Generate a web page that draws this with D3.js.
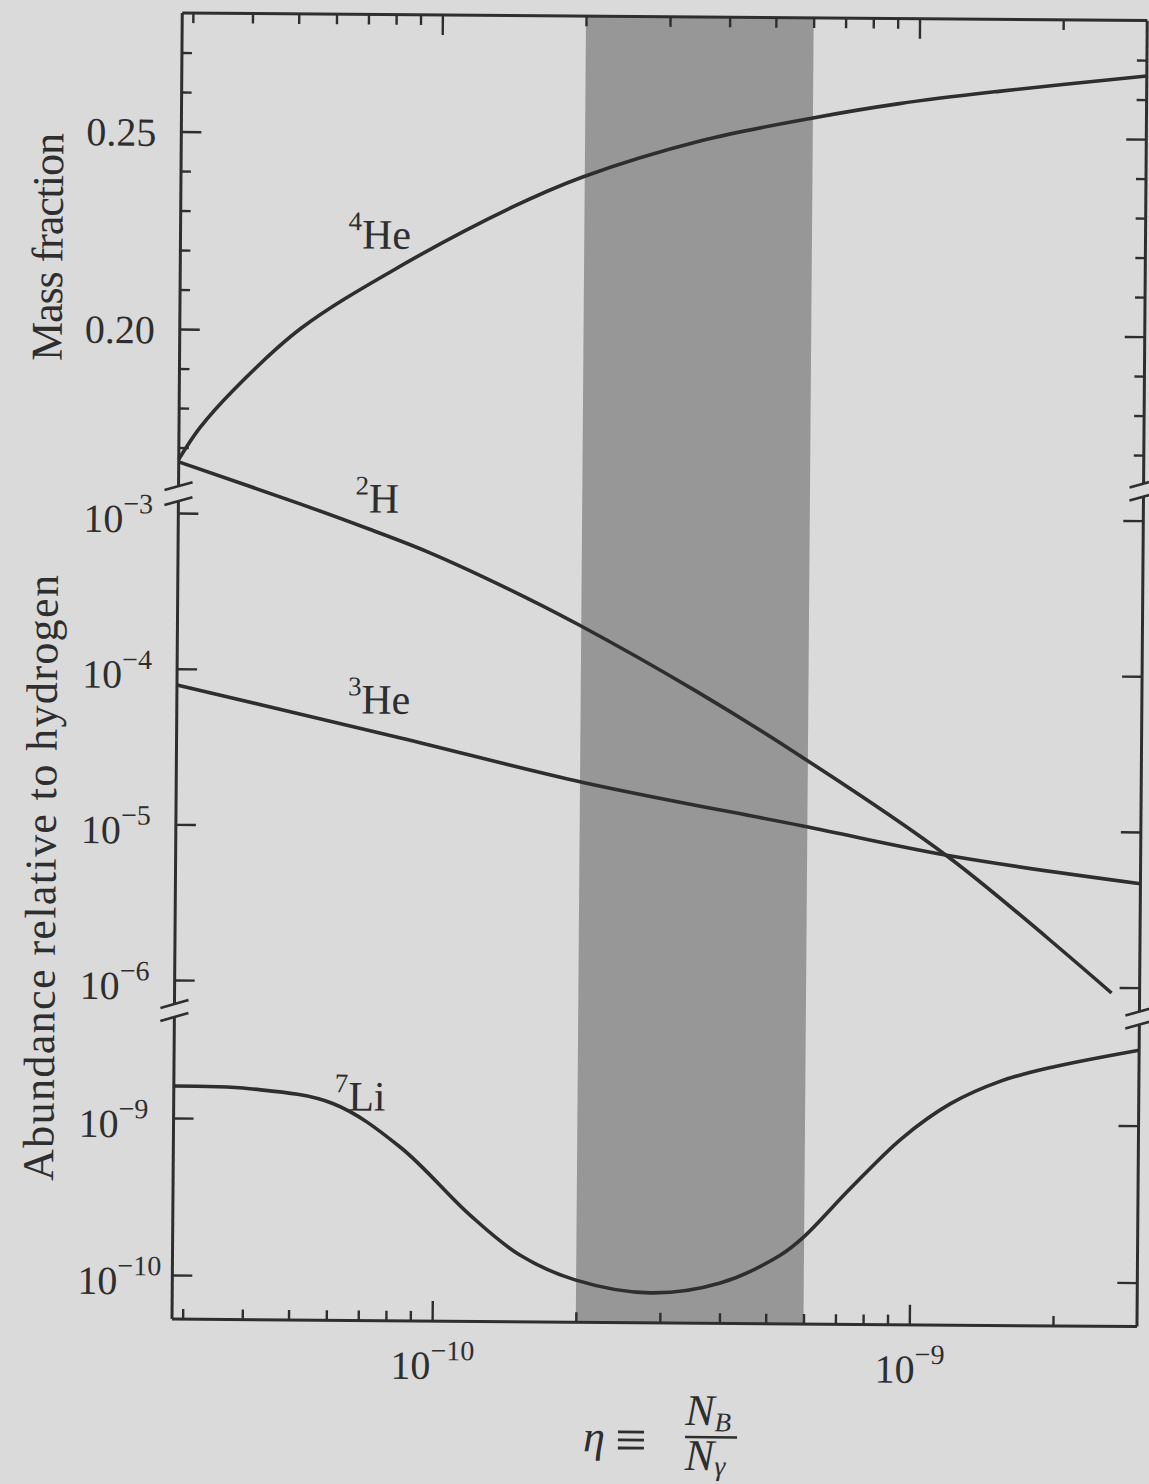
<!DOCTYPE html>
<html>
<head>
<meta charset="utf-8">
<script src="https://cdn.jsdelivr.net/npm/d3@7"></script>
<style>
  html, body { margin: 0; padding: 0; background: #dadada; }
  svg { display: block; }
</style>
</head>
<body>
<svg id="chart"></svg>
<script>
// ---- data ----
const etaDomain = [2.85e-11, 3e-9];
const bandEta = [2e-10, 6e-10];

const he4Eta = [2.85e-11, 3.15e-11, 3.69e-11, 5.1e-11, 8.2e-11, 1.41e-10, 1.98e-10, 3.5e-10, 6e-10, 9.1e-10, 1.47e-9, 3e-9];
const he4Y   = [0.167, 0.1750, 0.1845, 0.2003, 0.2162, 0.2315, 0.2393, 0.2487, 0.2547, 0.2585, 0.2618, 0.2660];

const h2Eta = [2.85e-11, 5.09e-11, 7.13e-11, 9.53e-11, 1.4e-10, 1.98e-10, 3.49e-10, 5.74e-10, 1.19e-9, 2.62e-9];
const h2Y   = [2.13e-3, 1.17e-3, 8.1e-4, 5.78e-4, 3.4e-4, 2.0e-4, 7.62e-5, 3.0e-5, 6.7e-6, 9.2e-7];

const he3Eta = [2.85e-11, 8.36e-11, 2.03e-10, 5.87e-10, 1.22e-9, 3e-9];
const he3Y   = [7.85e-5, 3.70e-5, 1.95e-5, 1.05e-5, 6.8e-6, 4.65e-6];

const li7Eta = [2.85e-11, 4.11e-11, 6.14e-11, 8.51e-11, 1.196e-10, 1.52e-10, 1.99e-10, 2.86e-10, 4.01e-10, 5.36e-10, 5.99e-10, 7.5e-10, 9.57e-10, 1.21e-9, 1.54e-9, 1.96e-9, 3e-9];
const li7Y   = [1.6e-9, 1.55e-9, 1.26e-9, 6.71e-10, 2.49e-10, 1.40e-10, 9.75e-11, 8.13e-11, 9.46e-11, 1.44e-10, 1.88e-10, 3.87e-10, 8.05e-10, 1.35e-9, 1.89e-9, 2.32e-9, 3.02e-9];

const massMajor = [0.20, 0.25];
const massMinor = [0.17, 0.18, 0.19, 0.21, 0.22, 0.23, 0.24, 0.26, 0.27];
const midTicks = [1e-3, 1e-4, 1e-5, 1e-6];
const liTicks = [1e-9, 1e-10];
const xMajor = [1e-10, 1e-9];
const xMinor = [3e-11, 4e-11, 5e-11, 6e-11, 7e-11, 8e-11, 9e-11,
                2e-10, 3e-10, 4e-10, 5e-10, 6e-10, 7e-10, 8e-10, 9e-10, 2e-9];

// ---- layout ----
const width = 1149, height = 1484;
const fLeft = 172, fRight = 1137, fTop = 13, fBottom = 1319;
const ink = '#2e2e2e', paper = '#dadada', bandFill = '#979797';
const serif = '"Liberation Serif", "Times New Roman", serif';

const x = d3.scaleLog().domain(etaDomain).range([fLeft, fRight]);
const yMass = d3.scaleLinear().domain([0.16, 0.28]).range([487, 13]);
const yMid = d3.scaleLog().domain([1e-6, 1e-3]).range([980, 513]);
const yLi = d3.scaleLog().domain([1e-10, 1e-9]).range([1275, 1118]);

const svg = d3.select('#chart').attr('width', width).attr('height', height);
svg.append('rect').attr('width', width).attr('height', height).attr('fill', paper);

// the scan is turned a little clockwise
const g = svg.append('g').attr('transform', `rotate(0.45,${fLeft},${fBottom})`);

// shaded band
g.append('rect')
  .attr('x', x(bandEta[0])).attr('y', fTop)
  .attr('width', x(bandEta[1]) - x(bandEta[0]))
  .attr('height', fBottom - fTop)
  .attr('fill', bandFill);

// curves
const curve = (etas, vals, y) => d3.line()
  .x(d => x(d[0])).y(d => y(d[1]))
  .curve(d3.curveCatmullRom.alpha(0.5))(d3.zip(etas, vals));

const curves = g.append('g').attr('fill', 'none').attr('stroke', ink)
  .attr('stroke-width', 3.6).attr('stroke-linejoin', 'round');
curves.append('path').attr('d', curve(he4Eta, he4Y, yMass));
curves.append('path').attr('d', curve(h2Eta, h2Y, yMid));
curves.append('path').attr('d', curve(he3Eta, he3Y, yMid));
curves.append('path').attr('d', curve(li7Eta, li7Y, yLi));

// axes
function styleAxis(sel) {
  sel.attr('color', ink).attr('font-family', serif);
  sel.select('.domain').remove();
  sel.selectAll('.tick line').attr('stroke-width', 2.4);
}
function powLabels(sel, yOff, anchor, xPos) {
  sel.selectAll('.tick text').each(function (d) {
    const e = Math.round(Math.log10(d));
    const t = d3.select(this).text(null)
      .attr('font-size', 40).attr('dy', null).attr('y', yOff)
      .attr('text-anchor', anchor);
    if (xPos !== undefined) t.attr('x', xPos);
    t.append('tspan').text('10');
    t.append('tspan').attr('dy', -19).attr('font-size', 28).text('\u2212' + Math.abs(e));
  });
}

// bottom
g.append('g').attr('transform', `translate(0,${fBottom})`)
  .call(d3.axisBottom(x).tickValues(xMinor).tickSize(-10).tickFormat(''))
  .call(styleAxis);
g.append('g').attr('transform', `translate(0,${fBottom})`)
  .call(d3.axisBottom(x).tickValues(xMajor).tickSize(-20))
  .call(styleAxis)
  .call(s => powLabels(s, 58, 'middle'));
// top
g.append('g').attr('transform', `translate(0,${fTop})`)
  .call(d3.axisTop(x).tickValues(xMinor).tickSize(-10).tickFormat(''))
  .call(styleAxis);
g.append('g').attr('transform', `translate(0,${fTop})`)
  .call(d3.axisTop(x).tickValues(xMajor).tickSize(-20).tickFormat(''))
  .call(styleAxis);

// left
g.append('g').attr('transform', `translate(${fLeft},0)`)
  .call(d3.axisLeft(yMass).tickValues(massMinor).tickSize(-10).tickFormat(''))
  .call(styleAxis);
g.append('g').attr('transform', `translate(${fLeft},0)`)
  .call(d3.axisLeft(yMass).tickValues(massMajor).tickSize(-20).tickFormat(d3.format('.2f')))
  .call(styleAxis)
  .call(s => s.selectAll('.tick text').attr('font-size', 40).attr('x', 77 - fLeft)
    .attr('text-anchor', 'start').attr('dy', null).attr('y', 14));
g.append('g').attr('transform', `translate(${fLeft},0)`)
  .call(d3.axisLeft(yMid).tickValues(midTicks).tickSize(-20))
  .call(styleAxis)
  .call(s => powLabels(s, 19, 'start', 77 - fLeft));
g.append('g').attr('transform', `translate(${fLeft},0)`)
  .call(d3.axisLeft(yLi).tickValues(liTicks).tickSize(-20))
  .call(styleAxis)
  .call(s => powLabels(s, 19, 'start', 77 - fLeft));

// right
g.append('g').attr('transform', `translate(${fRight},0)`)
  .call(d3.axisRight(yMass).tickValues(massMinor).tickSize(-10).tickFormat(''))
  .call(styleAxis);
g.append('g').attr('transform', `translate(${fRight},0)`)
  .call(d3.axisRight(yMass).tickValues(massMajor).tickSize(-20).tickFormat(''))
  .call(styleAxis);
g.append('g').attr('transform', `translate(${fRight},0)`)
  .call(d3.axisRight(yMid).tickValues(midTicks).tickSize(-20).tickFormat(''))
  .call(styleAxis);
g.append('g').attr('transform', `translate(${fRight},0)`)
  .call(d3.axisRight(yLi).tickValues(liTicks).tickSize(-20).tickFormat(''))
  .call(styleAxis);

// frame with broken vertical axes
const frame = g.append('g').attr('stroke', ink).attr('stroke-width', 3).attr('fill', 'none');
frame.append('line').attr('x1', fLeft).attr('x2', fRight).attr('y1', fTop).attr('y2', fTop);
frame.append('line').attr('x1', fLeft).attr('x2', fRight).attr('y1', fBottom).attr('y2', fBottom);
const breaksL = [[486, 501], [1004, 1017]];
const breaksR = [[476, 489], [1004, 1017]];
function brokenAxis(ax, breaks) {
  const stops = [fTop, ...breaks.flat(), fBottom];
  for (let i = 0; i < stops.length; i += 2) {
    frame.append('line').attr('x1', ax).attr('x2', ax).attr('y1', stops[i]).attr('y2', stops[i + 1]);
  }
  breaks.flat().forEach(yb => {
    frame.append('line').attr('stroke-width', 2.6)
      .attr('x1', ax - 14).attr('y1', yb + 4).attr('x2', ax + 14).attr('y2', yb - 4);
  });
}
brokenAxis(fLeft, breaksL);
brokenAxis(fRight, breaksR);

// axis titles
g.append('text')
  .attr('transform', `translate(54,248) rotate(-90)`)
  .attr('text-anchor', 'middle').attr('font-family', serif).attr('font-size', 44)
  .attr('fill', ink).attr('textLength', 228).attr('lengthAdjust', 'spacing')
  .text('Mass fraction');
g.append('text')
  .attr('transform', `translate(52,879) rotate(-90)`)
  .attr('text-anchor', 'middle').attr('font-family', serif).attr('font-size', 44)
  .attr('fill', ink).attr('textLength', 606).attr('lengthAdjust', 'spacing')
  .text('Abundance relative to hydrogen');

// curve labels
const curveLabels = [
  { sup: '4', base: 'He', x: 340, y: 247 },
  { sup: '2', base: 'H', x: 349, y: 511 },
  { sup: '3', base: 'He', x: 343, y: 712 },
  { sup: '7', base: 'Li', x: 333, y: 1109 }
];
const lab = g.append('g').attr('font-family', serif).attr('fill', ink);
curveLabels.forEach(d => {
  const t = lab.append('text').attr('x', d.x).attr('y', d.y).attr('font-size', 42);
  t.append('tspan').attr('font-size', 27).attr('dy', -18).text(d.sup);
  t.append('tspan').attr('dy', 18).text(d.base);
});

// x-axis title: eta = N_B / N_gamma
const xt = g.append('g').attr('font-family', serif).attr('fill', ink);
xt.append('text').attr('x', 584).attr('y', 1448).attr('font-size', 44)
  .attr('font-style', 'italic').text('\u03B7');
xt.append('text').attr('x', 616).attr('y', 1455).attr('font-size', 56).text('\u2261');
xt.append('line').attr('x1', 686).attr('x2', 738).attr('y1', 1433).attr('y2', 1433)
  .attr('stroke', ink).attr('stroke-width', 2.6);
const num = xt.append('text').attr('x', 686).attr('y', 1421).attr('font-size', 44).attr('font-style', 'italic');
num.append('tspan').text('N');
num.append('tspan').attr('font-size', 27).attr('dy', 6).text('B');
const den = xt.append('text').attr('x', 686).attr('y', 1466).attr('font-size', 44).attr('font-style', 'italic');
den.append('tspan').text('N');
den.append('tspan').attr('font-size', 28).attr('dy', 5).text('\u03B3');
</script>
</body>
</html>
